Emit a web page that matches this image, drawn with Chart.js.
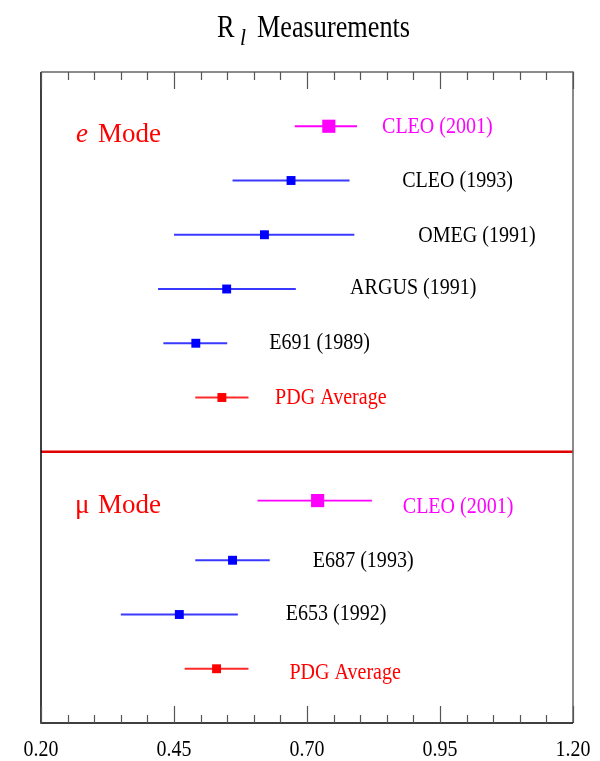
<!DOCTYPE html>
<html>
<head>
<meta charset="utf-8">
<script src="https://cdn.jsdelivr.net/npm/chart.js@4"></script>
<style>
  body { margin: 0; background: #fff; }
  canvas { display: block; }
</style>
</head>
<body>
<canvas id="graph" width="600" height="761"></canvas>
<script>
// measurements, top to bottom
const experiments = ['CLEO (2001)', 'CLEO (1993)', 'OMEG (1991)', 'ARGUS (1991)', 'E691 (1989)', 'PDG Average',
                     'CLEO (2001)', 'E687 (1993)', 'E653 (1992)', 'PDG Average'];
const kinds   = ['new', 'old', 'old', 'old', 'old', 'avg', 'new', 'old', 'old', 'avg'];
const rows    = [11, 10, 9, 8, 7, 6, 4.1, 3, 2, 1];
const central = [0.741, 0.670, 0.620, 0.549, 0.491, 0.540, 0.720, 0.560, 0.460, 0.530];
const lower   = [0.677, 0.560, 0.450, 0.420, 0.430, 0.490, 0.607, 0.490, 0.350, 0.470];
const upper   = [0.794, 0.780, 0.789, 0.679, 0.550, 0.590, 0.822, 0.630, 0.570, 0.590];

// where the experiment names sit (axis units)
const labelX = [0.841, 0.879, 0.909, 0.781, 0.629, 0.640, 0.880, 0.711, 0.660, 0.667];
const labelY = [10.88, 9.88, 8.86, 7.90, 6.90, 5.88, 3.88, 2.88, 1.89, 0.81];

const xTickLabels = ['0.20', '0.45', '0.70', '0.95', '1.20'];
const modeSplit = 5;

const markColor = { new: '#ff00ff', old: '#0000ff', avg: '#ff0000' };
const barColor  = { new: '#ff00ff', old: '#3a3aff', avg: '#ff2a2a' };
const textColor = { new: '#ff00ff', old: '#000000', avg: '#ff0000' };
const SERIF = '"Liberation Serif", "Times New Roman", serif';

function text(ctx, s, x, y, size, color, sx, align, style) {
  ctx.save();
  ctx.font = (style || '') + ' ' + size + 'px ' + SERIF;
  ctx.fillStyle = color;
  ctx.textBaseline = 'alphabetic';
  let w = ctx.measureText(s).width * sx;
  let x0 = align === 'center' ? x - w / 2 : x;
  ctx.translate(x0, y);
  ctx.scale(sx, 1);
  ctx.fillText(s, 0, 0);
  ctx.restore();
}

const errorBars = {
  id: 'errorBars',
  beforeDatasetsDraw(chart) {
    const ctx = chart.ctx, xs = chart.scales.x, ys = chart.scales.y;
    const a = chart.chartArea;
    ctx.save();
    // separator between the two modes
    ctx.strokeStyle = '#e00000';
    ctx.lineWidth = 2.5;
    ctx.beginPath();
    ctx.moveTo(a.left, ys.getPixelForValue(modeSplit));
    ctx.lineTo(a.right, ys.getPixelForValue(modeSplit));
    ctx.stroke();
    for (let i = 0; i < rows.length; i++) {
      const y = ys.getPixelForValue(rows[i]);
      ctx.strokeStyle = barColor[kinds[i]];
      ctx.lineWidth = 1.8;
      ctx.beginPath();
      ctx.moveTo(xs.getPixelForValue(lower[i]), y);
      ctx.lineTo(xs.getPixelForValue(upper[i]), y);
      ctx.stroke();
    }
    ctx.restore();
  },
  afterDraw(chart) {
    const ctx = chart.ctx, xs = chart.scales.x, ys = chart.scales.y;
    const a = chart.chartArea;
    ctx.save();
    // frame
    ctx.lineWidth = 1.5;
    ctx.strokeStyle = '#666';
    ctx.beginPath();
    ctx.moveTo(a.left, a.top); ctx.lineTo(a.right, a.top); ctx.lineTo(a.right, a.bottom);
    ctx.stroke();
    ctx.strokeStyle = '#000';
    ctx.beginPath();
    ctx.moveTo(a.left, a.top); ctx.lineTo(a.left, a.bottom); ctx.lineTo(a.right, a.bottom);
    ctx.stroke();
    // inward ticks, every 0.05, major every 0.25
    ctx.strokeStyle = '#555';
    ctx.lineWidth = 1.2;
    for (let k = 0; k <= 20; k++) {
      const v = 0.2 + k * 0.05;
      const px = Math.round(xs.getPixelForValue(v)) + 0.5;
      const len = k % 5 === 0 ? 17 : 8;
      ctx.beginPath();
      ctx.moveTo(px, a.bottom); ctx.lineTo(px, a.bottom - len);
      ctx.moveTo(px, a.top); ctx.lineTo(px, a.top + len);
      ctx.stroke();
    }
    ctx.restore();
    xTickLabels.forEach(t => {
      text(ctx, t, xs.getPixelForValue(parseFloat(t)), 756, 24, '#000', 0.83, 'center');
    });
    // title
    text(ctx, 'R', 217, 37, 32, '#000', 0.82);
    text(ctx, 'l', 240, 45, 24, '#000', 0.9, 'left', 'italic');
    text(ctx, 'Measurements', 257, 37, 32, '#000', 0.82);
    // mode headers
    text(ctx, 'e', 76, 142, 27, '#ff0000', 1, 'left', 'italic');
    text(ctx, 'Mode', 98, 142, 27, '#ff0000', 1);
    text(ctx, 'μ', 75, 513, 27, '#ff0000', 1);
    text(ctx, 'Mode', 98, 513, 27, '#ff0000', 1);
    // experiment names
    for (let i = 0; i < experiments.length; i++) {
      text(ctx, experiments[i], xs.getPixelForValue(labelX[i]), ys.getPixelForValue(labelY[i]),
           24, textColor[kinds[i]], 0.835);
    }
  }
};

const points = rows.map((r, i) => ({ x: central[i], y: r }));

const graph = document.getElementById('graph').getContext('2d');

let myChart = new Chart(graph, {
  type: 'scatter',
  data: {
    datasets: [{
      label: 'R_l',
      data: points,
      pointStyle: 'rect',
      pointRadius: kinds.map(k => k === 'new' ? 9.3 : 6.3),
      pointBackgroundColor: kinds.map(k => markColor[k]),
      pointBorderWidth: 0,
      pointBorderColor: kinds.map(k => markColor[k]),
    }]
  },
  options: {
    responsive: false,
    animation: false,
    events: [],
    layout: { padding: { left: 41, right: 27, top: 72, bottom: 38 } },
    plugins: { legend: { display: false }, tooltip: { enabled: false }, title: { display: false } },
    scales: {
      x: { type: 'linear', min: 0.2, max: 1.2, display: false },
      y: { type: 'linear', min: 0, max: 12, display: false }
    }
  },
  plugins: [errorBars]
});
</script>
</body>
</html>
